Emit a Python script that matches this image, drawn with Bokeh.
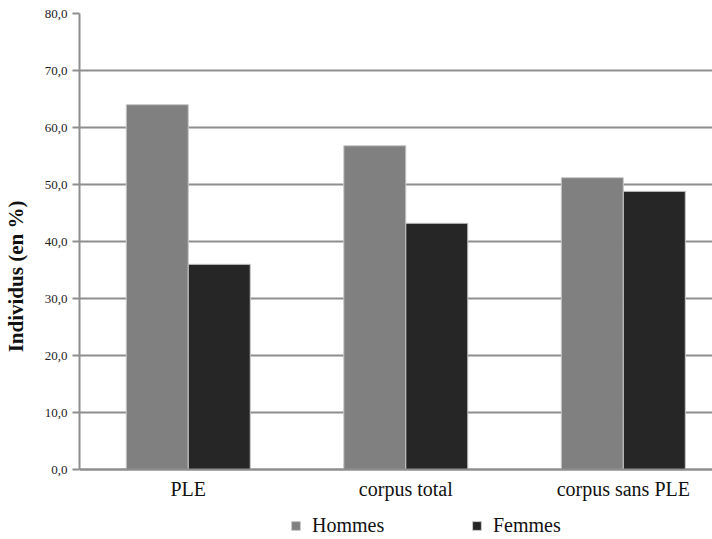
from bokeh.plotting import figure
from bokeh.models import Range1d, FixedTicker, Legend, LegendItem, ColumnDataSource
from bokeh.embed import file_html
from bokeh.resources import INLINE

categories = ["PLE", "corpus total", "corpus sans PLE"]
hommes = [64.0, 56.8, 51.2]
femmes = [36.0, 43.2, 48.8]
y_ticks = [0, 10, 20, 30, 40, 50, 60, 70, 80]
y_labels = ["0,0", "10,0", "20,0", "30,0", "40,0", "50,0", "60,0", "70,0", "80,0"]

FONT = "Liberation Serif"
GRID = "#8e8e8e"

x_pos = [i + 0.5 for i in range(len(categories))]
bw = 0.285
src = ColumnDataSource(dict(
    xh=[x - bw / 2 for x in x_pos],
    xf=[x + bw / 2 for x in x_pos],
    h=hommes, f=femmes))

p = figure(width=712, height=539, output_backend="svg", toolbar_location=None,
           x_range=Range1d(0, 2.910), y_range=Range1d(-12.28, 80),
           min_border_top=13, min_border_right=0, min_border_left=79, min_border_bottom=0)
p.outline_line_color = None
p.background_fill_color = "white"

rh = p.vbar(x="xh", top="h", width=bw, bottom=0, source=src,
            fill_color="#808080", line_color="#c8c8c8", line_width=1)
rf = p.vbar(x="xf", top="f", width=bw, bottom=0, source=src,
            fill_color="#262626", line_color="#c8c8c8", line_width=1)

# grid
p.xgrid.grid_line_color = None
p.ygrid.grid_line_color = GRID
p.ygrid.grid_line_width = 2
p.ygrid.ticker = FixedTicker(ticks=y_ticks)

# y axis
ya = p.yaxis[0]
ya.ticker = FixedTicker(ticks=y_ticks)
ya.bounds = (0, 80)
ya.major_label_overrides = {t: l for t, l in zip(y_ticks, y_labels)}
ya.axis_label = "Individus (en %)"
ya.axis_label_text_font = FONT
ya.axis_label_text_font_style = "bold"
ya.axis_label_text_font_size = "21px"
ya.axis_label_text_color = "#111111"
ya.axis_label_standoff = 14
ya.major_label_text_font = FONT
ya.major_label_text_font_size = "13px"
ya.major_label_text_color = "#222222"
ya.major_label_standoff = 5
ya.axis_line_color = GRID
ya.axis_line_width = 2
ya.major_tick_line_color = GRID
ya.major_tick_line_width = 2
ya.major_tick_out = 7
ya.major_tick_in = 0
ya.minor_tick_line_color = None

# x axis, drawn at y = 0
xa = p.xaxis[0]
xa.fixed_location = 0
xa.ticker = FixedTicker(ticks=x_pos)
xa.major_label_overrides = {x: c for x, c in zip(x_pos, categories)}
xa.major_label_text_font = FONT
xa.major_label_text_font_size = "20px"
xa.major_label_text_color = "#111111"
xa.major_label_standoff = 8
xa.axis_line_color = GRID
xa.axis_line_width = 2
xa.major_tick_line_color = None
xa.major_tick_out = 0
xa.major_tick_in = 0
xa.minor_tick_line_color = None

legend = Legend(items=[LegendItem(label="Hommes", renderers=[rh]),
                       LegendItem(label="Femmes", renderers=[rf])],
                orientation="horizontal", location=(211, 2),
                glyph_width=11, glyph_height=11, label_standoff=11,
                label_width=140, spacing=19, padding=0, margin=0,
                border_line_color=None, background_fill_alpha=0,
                label_text_font=FONT, label_text_font_size="20px",
                label_text_color="#111111")
p.add_layout(legend, "center")

open("out.html", "w").write(file_html(p, INLINE))
